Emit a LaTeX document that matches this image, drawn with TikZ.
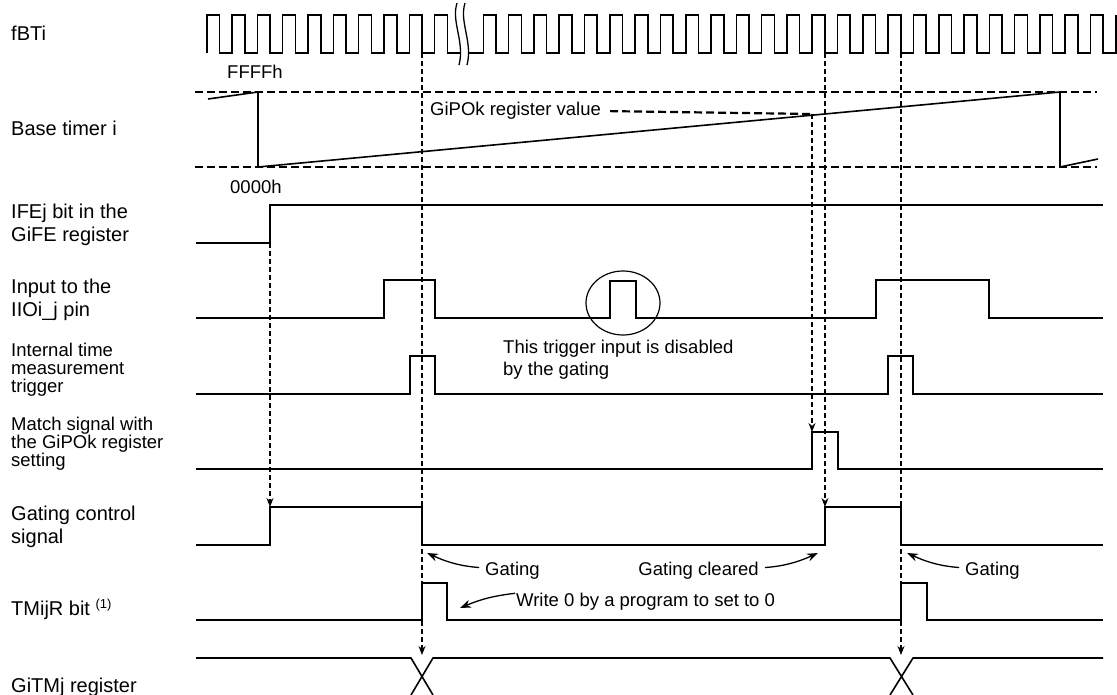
\documentclass[tikz,border=0pt]{standalone}
\usepackage{fontspec}
\setmainfont{Liberation Sans}
\usetikzlibrary{arrows.meta}

\tikzset{
  sig/.style={line width=1.6pt, line join=miter},
  guide/.style={line width=1.1pt, dash pattern=on 5pt off 3pt},
  guidearrow/.style={guide, -{Stealth[length=9pt, width=7pt]}},
  levelline/.style={line width=2.2pt, dash pattern=on 8pt off 4pt},
  note/.style={line width=1.3pt, -{Stealth[length=11pt, width=8pt]}},
  lbl/.style={anchor=west, inner sep=0pt, align=left, font=\fontsize{20}{23}\selectfont},
  smalllbl/.style={lbl, font=\fontsize{18.5}{18}\selectfont},
  txt/.style={inner sep=0pt, align=left, font=\fontsize{18.5}{22}\selectfont}
}

\begin{document}
\begin{tikzpicture}[x=1pt, y=-1pt]
    \useasboundingbox (0,0) rectangle (1117,695);

    % Signal names
    \node[lbl] (fbti) at (11,33) {fBTi};
    \node[lbl] (basetimer) at (11,128) {Base timer i};
    \node[lbl] (ifej) at (11,224.5) {IFEj bit in the\\GiFE register};
    \node[lbl] (iio) at (11,299.5) {Input to the\\IIOi\_j pin};
    \node[smalllbl] (trig) at (11,370) {Internal time\\measurement\\trigger};
    \node[smalllbl] (match) at (11,444) {Match signal with\\the GiPOk register\\setting};
    \node[lbl] (gatectl) at (11,526.5) {Gating control\\signal};
    \node[lbl] (tmr) at (11,609) {TMijR bit {\fontsize{13}{13}\selectfont\raisebox{7pt}{(1)}}};
    \node[lbl] (gitm) at (11,687) {GiTMj register};

    % Count source clock (two parts around the break)
    \draw[sig] (206.7,53) \foreach \k in {0,...,9}{ -- ++(0,-38) -- ++(12.7,0) -- ++(0,38) -- ++(12.63,0) };
    \draw[sig] (468,53) -- (483.3,53) \foreach \k in {0,...,24}{ -- ++(0,-38) -- ++(12.7,0) -- ++(0,38) -- ++(12.6,0) } -- ++(0,-38);
    \fill[white] (457,3) .. controls (451,22) and (465,42) .. (459,65) -- (467,65) .. controls (473,42) and (459,22) .. (465,3) -- cycle;
    \draw[line width=1.3pt] (457,3) .. controls (451,22) and (465,42) .. (459,65);
    \draw[line width=1.3pt] (465,3) .. controls (459,22) and (473,42) .. (467,65);

    % Base timer counter
    \draw[levelline] (195,92) -- (1097,92);
    \draw[levelline] (195,167) -- (1097,167);
    \draw[sig] (208,99) -- (258,92) -- (258,167) -- (1060,92) -- (1060,167) -- (1098,159);
    \node[txt, anchor=west] (ffff) at (227,72) {FFFFh};
    \node[txt, anchor=west] (zero) at (230,187) {0000h};
    \node[txt, anchor=west] (pok) at (430,111) {GiPOk register value};

    % Waveforms
    \draw[sig] (196,243) -- (270,243) -- (270,205) -- (1103,205);
    \draw[sig] (196,318) -- (384,318) -- (384,280) -- (435,280) -- (435,318) -- (610,318) -- (610,281)
        -- (636,281) -- (636,318) -- (876,318) -- (876,280) -- (989,280) -- (989,318) -- (1103,318);
    \draw[sig] (196,394) -- (410,394) -- (410,356) -- (435,356) -- (435,394) -- (888,394) -- (888,356)
        -- (913,356) -- (913,394) -- (1103,394);
    \draw[sig] (196,469) -- (812,469) -- (812,432) -- (838,432) -- (838,469) -- (1103,469);
    \draw[sig] (196,545) -- (270,545) -- (270,507) -- (422,507) -- (422,545) -- (825,545) -- (825,507)
        -- (901,507) -- (901,545) -- (1103,545);
    \draw[sig] (196,620) -- (422,620) -- (422,583) -- (447,583) -- (447,620) -- (901,620) -- (901,583)
        -- (927,583) -- (927,620) -- (1103,620);
    \draw[sig] (196,658) -- (411,658) -- (433,695) (411,695) -- (433,658) -- (890,658) -- (913,695)
        (890,695) -- (913,658) -- (1103,658);

    % Disabled trigger
    \draw[line width=1.2pt] (623,303) ellipse [x radius=37, y radius=32];
    \node[txt, anchor=west] (dis) at (503,360) {This trigger input is disabled\\by the gating};

    % Timing references
    \coordinate (ifrise) at (270,243);
    \coordinate (gaterise1) at (270,507);
    \coordinate (clk1) at (422,53);
    \coordinate (x1) at (422,655);
    \coordinate (pokcorner) at (812,114);
    \coordinate (matchrise) at (812,432);
    \coordinate (clk2) at (825,53);
    \coordinate (gaterise2) at (825,507);
    \coordinate (clk3) at (901,53);
    \coordinate (x2) at (901,655);

    \draw[levelline, shorten <=9pt] (pok.east) -- (pokcorner);
    \draw[guidearrow] (pokcorner) -- (matchrise);
    \draw[guidearrow] (ifrise) -- (gaterise1);
    \draw[guidearrow] (clk1) -- (x1);
    \draw[guidearrow] (clk2) -- (gaterise2);
    \draw[guidearrow] (clk3) -- (x2);

    % Notes
    \node[txt, anchor=west] (gate1) at (485,571) {Gating};
    \node[txt, anchor=east] (gclr) at (759,571) {Gating cleared};
    \node[txt, anchor=west] (gate2) at (965,571) {Gating};
    \node[txt, anchor=west] (wr) at (516,602) {Write 0 by a program to set to 0};
    \coordinate (gtip1) at (427,553);
    \coordinate (ctip) at (818,553);
    \coordinate (gtip2) at (907,553);
    \coordinate (wtip) at (460,608);

    \draw[note, shorten <=6pt] ([yshift=3pt]gate1.west) to[bend left=10] (gtip1);
    \draw[note, shorten <=6pt] ([yshift=3pt]gclr.east) to[bend right=10] (ctip);
    \draw[note, shorten <=6pt] ([yshift=3pt]gate2.west) to[bend left=10] (gtip2);
    \draw[note, shorten <=1pt] (wr.north west) to[bend right=8] (wtip);
\end{tikzpicture}
\end{document}
